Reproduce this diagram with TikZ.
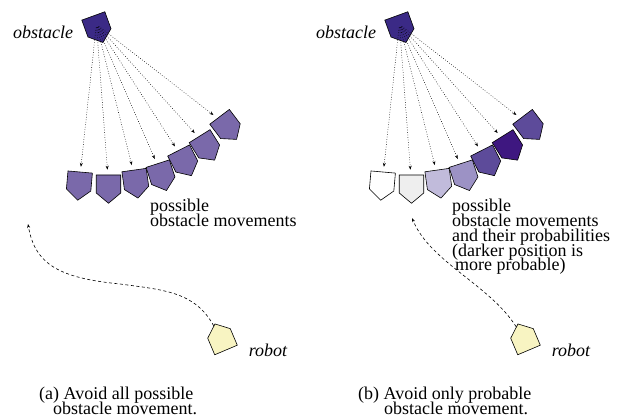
\documentclass[tikz,border=0pt]{standalone}
\usepackage{fontspec}
\setmainfont{Liberation Serif}
\usetikzlibrary{shapes.symbols,arrows.meta}

\definecolor{obstcol}{HTML}{3B2A86}
\definecolor{movecol}{HTML}{7A69AA}
\definecolor{robotcol}{HTML}{F8F4C2}
\definecolor{probA}{HTML}{EEEEEE}
\definecolor{probB}{HTML}{C1BBDB}
\definecolor{probC}{HTML}{9C92C5}
\definecolor{probD}{HTML}{5D4B9A}
\definecolor{probE}{HTML}{3E1780}

\newcommand\labfont{\fontsize{18}{14.8}\selectfont\lineskiplimit=-20pt\relax}

\begin{document}
\begin{tikzpicture}
  [x=1pt,y=-1pt,
   plate/.style={signal,signal to=south,signal pointer angle=100,draw,
     line width=.6pt,inner sep=0pt,minimum width=24.5pt,minimum height=18pt},
   move/.style={-{Stealth[length=4pt,width=3pt]},line width=.5pt,
     dash pattern=on .7pt off 1.8pt,shorten <=3pt,shorten >=5pt},
   path/.style={-{Stealth[length=4pt,width=3pt]},line width=.6pt,
     dash pattern=on 3pt off 2.5pt},
   txt/.style={font=\labfont,inner sep=0pt,align=left}]
  \useasboundingbox (0,0) rectangle (621,419);

  % (a) all movements
  \node[plate,fill=obstcol,rotate=20] (ob) at (96.4,24.4) {};
  \node[txt,font=\labfont\itshape] (obl) at (43,32) {obstacle};
  \node[plate,fill=movecol,rotate=-5] (m1) at (79.4,181) {};
  \node[plate,fill=movecol] (m2) at (108.5,184) {};
  \node[plate,fill=movecol,rotate=8] (m3) at (135.3,179) {};
  \node[plate,fill=movecol,rotate=18] (m4) at (160.5,172.2) {};
  \node[plate,fill=movecol,rotate=27] (m5) at (182.7,158.5) {};
  \node[plate,fill=movecol,rotate=32] (m6) at (204.4,143.8) {};
  \node[plate,fill=movecol,rotate=37] (m7) at (225,124) {};

  \draw[move] (ob.center) -- (m1);
  \draw[move] (ob.center) -- (m2);
  \draw[move] (ob.center) -- (m3);
  \draw[move] (ob.center) -- (m4);
  \draw[move] (ob.center) -- (m5);
  \draw[move] (ob.center) -- (m6);
  \draw[move] (ob.center) -- (m7);

  \node[txt,anchor=north west] (mvl) at (150,199) {possible\\obstacle movements};

  \node[plate,fill=robotcol,rotate=203] (rb) at (222.5,341.7) {};
  \node[txt,font=\labfont\itshape] (rbl) at (268,350) {robot};
  \coordinate (la) at (28,224);
  \draw[path] (rb) .. controls (195,292) and (165,290) .. (120,284)
    .. controls (60,278) and (35,265) .. (la);

  \node[txt,anchor=north west] (capa) at (39,387)
    {(a) Avoid all possible\\\hspace*{14pt}obstacle movement.};

  % (b) probable movements
  \node[plate,fill=obstcol,rotate=20] (ob2) at (399.4,24.4) {};
  \node[txt,font=\labfont\itshape] (obl2) at (346,32) {obstacle};
  \node[plate,fill=white,rotate=-5] (p1) at (382.4,181) {};
  \node[plate,fill=probA] (p2) at (411.5,184) {};
  \node[plate,fill=probB,rotate=8] (p3) at (438.3,179) {};
  \node[plate,fill=probC,rotate=18] (p4) at (463.5,172.2) {};
  \node[plate,fill=probD,rotate=27] (p5) at (485.7,158.5) {};
  \node[plate,fill=probE,rotate=32] (p6) at (507.4,143.8) {};
  \node[plate,fill=probD,rotate=37] (p7) at (528,124) {};

  \draw[move] (ob2.center) -- (p1);
  \draw[move] (ob2.center) -- (p2);
  \draw[move] (ob2.center) -- (p3);
  \draw[move] (ob2.center) -- (p4);
  \draw[move] (ob2.center) -- (p5);
  \draw[move] (ob2.center) -- (p6);
  \draw[move] (ob2.center) -- (p7);

  \node[txt,anchor=north west] (pbl) at (452,199)
    {possible\\obstacle movements\\and their probabilities\\(darker position is\\\hspace*{3pt}more probable)};

  \node[plate,fill=robotcol,rotate=203] (rb2) at (525.5,341.7) {};
  \node[txt,font=\labfont\itshape] (rbl2) at (571,350) {robot};
  \coordinate (lb) at (412,218);
  \draw[path] (rb2) .. controls (490,285) and (430,262) .. (lb);

  \node[txt,anchor=north west] (capb) at (358,387)
    {(b) Avoid only probable\\\hspace*{26pt}obstacle movement.};
\end{tikzpicture}
\end{document}
